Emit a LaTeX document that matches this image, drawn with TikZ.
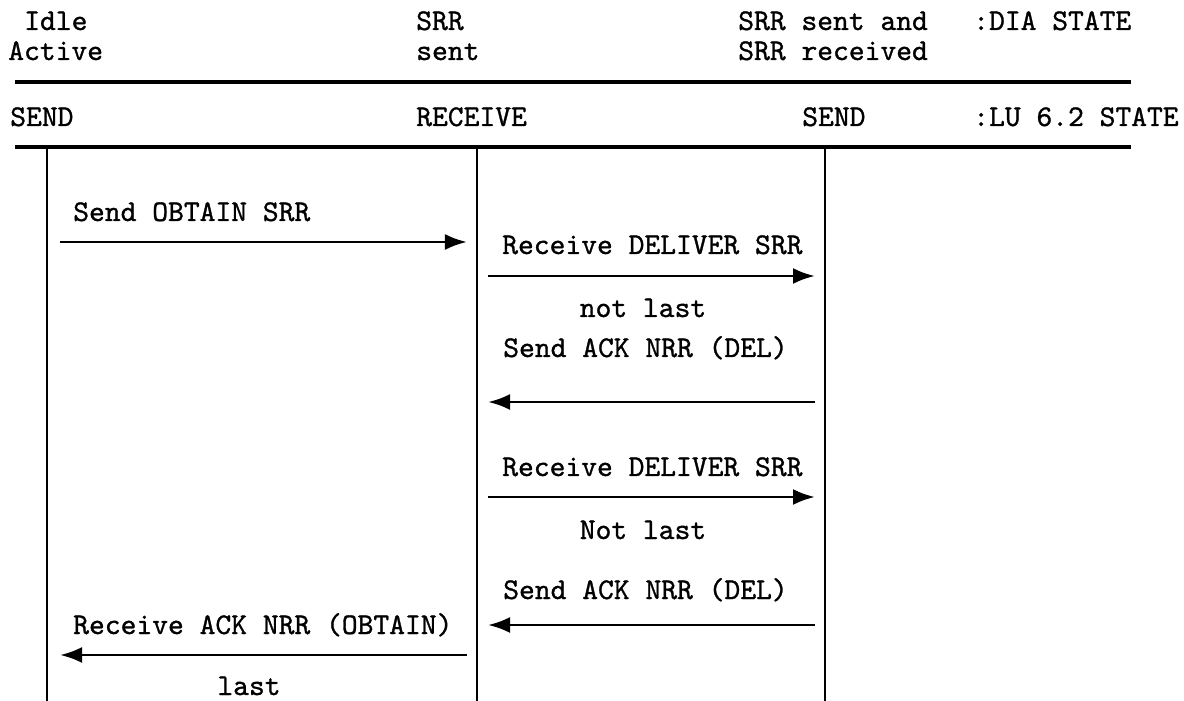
\documentclass[tikz,border=0pt]{standalone}
\usepackage{fontspec}
\newfontfamily\typer{lmmono10-regular}[Extension=.otf, FakeBold=1]
\usetikzlibrary{arrows.meta}

\begin{document}
\begin{tikzpicture}[
  x=0.025cm, y=-0.025cm,
  font=\typer\fontsize{21.4}{26}\selectfont,
  lbl/.style={anchor=base west, inner sep=0pt},
  mid/.style={anchor=base, inner sep=0pt},
  rule/.style={line width=2.2pt},
  life/.style={line width=1.3pt},
  msg/.style={-{Latex[length=5.5mm,width=4mm]}, line width=2.1pt}
]
\useasboundingbox (0,0) rectangle (1184,701);

\node[lbl] (idle) at (24,30) {Idle};
\node[lbl] (active) at (8,60) {Active};
\node[lbl] (srr) at (416,30) {SRR};
\node[lbl] (sent) at (416,60) {sent};
\node[lbl] (both) at (738,30) {SRR sent and};
\node[lbl] (recvd) at (738,60) {SRR received};
\node[lbl] (dia) at (973,30) {:DIA STATE};
\node[lbl] (send-a) at (10,126) {SEND};
\node[lbl] (receive) at (416,126) {RECEIVE};
\node[lbl] (send-b) at (802,126) {SEND};
\node[lbl] (lu) at (973,126) {:LU 6.2 STATE};

\coordinate (rule1-w) at (15,82);
\coordinate (rule1-e) at (1131,82);
\coordinate (rule2-w) at (15,147);
\coordinate (rule2-e) at (1131,147);
\draw[rule] (rule1-w) -- (rule1-e);
\draw[rule] (rule2-w) -- (rule2-e);

\coordinate (life-a) at (47,147);
\coordinate (life-b) at (477,147);
\coordinate (life-c) at (825,147);
\coordinate (foot-a) at (47,701);
\coordinate (foot-b) at (477,701);
\coordinate (foot-c) at (825,701);
\draw[life] (life-a) -- (foot-a);
\draw[life] (life-b) -- (foot-b);
\draw[life] (life-c) -- (foot-c);

\node[lbl] (obtain) at (73,221) {Send OBTAIN SRR};
\node[lbl] (deliver-a) at (502,254) {Receive DELIVER SRR};
\node[mid] (notlast-a) at (643,317) {not last};
\node[lbl] (ack-a) at (503,357) {Send ACK NRR (DEL)};
\node[lbl] (deliver-b) at (502,476) {Receive DELIVER SRR};
\node[mid] (notlast-b) at (643,539) {Not last};
\node[lbl] (ack-b) at (503,599) {Send ACK NRR (DEL)};
\node[lbl] (ackobtain) at (73,634) {Receive ACK NRR (OBTAIN)};
\node[mid] (last) at (249,695) {last};

\coordinate (m1-s) at (60,242);
\coordinate (m1-e) at (467,242);
\coordinate (m2-s) at (488,276);
\coordinate (m2-e) at (815,276);
\coordinate (m3-s) at (815,402);
\coordinate (m3-e) at (488,402);
\coordinate (m4-s) at (488,497);
\coordinate (m4-e) at (815,497);
\coordinate (m5-s) at (815,625);
\coordinate (m5-e) at (488,625);
\coordinate (m6-s) at (467,655);
\coordinate (m6-e) at (60,655);
\draw[msg] (m1-s) -- (m1-e);
\draw[msg] (m2-s) -- (m2-e);
\draw[msg] (m3-s) -- (m3-e);
\draw[msg] (m4-s) -- (m4-e);
\draw[msg] (m5-s) -- (m5-e);
\draw[msg] (m6-s) -- (m6-e);
\end{tikzpicture}
\end{document}
